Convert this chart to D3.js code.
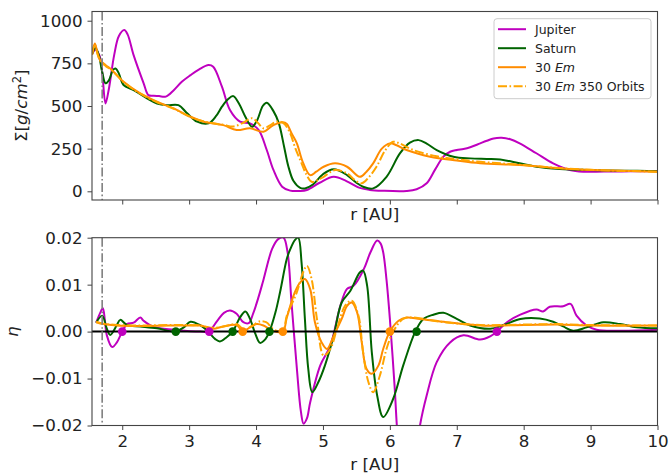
<!DOCTYPE html>
<html>
<head>
<meta charset="utf-8">
<script src="https://cdnjs.cloudflare.com/ajax/libs/d3/7.8.5/d3.min.js"></script>
<style>
  body { margin: 0; background: #fff; }
  svg { font-family: "DejaVu Sans", sans-serif; }
</style>
</head>
<body>
<div id="chart"></div>
<script>
"use strict";

// surface density, [r (AU), sigma (g/cm^2)]
var jupiterSigma = [[1.55, 805], [1.60, 830], [1.66, 795], [1.70, 700], [1.75, 515], [1.80, 600], [1.88, 800], [1.95, 910], [2.03, 945], [2.08, 920], [2.17, 798], [2.32, 633], [2.39, 564], [2.47, 560], [2.55, 558], [2.65, 555], [2.77, 593], [2.89, 642], [3.02, 681], [3.15, 715], [3.29, 740], [3.36, 730], [3.49, 613], [3.61, 476], [3.76, 408], [3.91, 398], [4.04, 359], [4.16, 242], [4.26, 125], [4.39, 27], [4.51, 4], [4.65, 2], [4.76, 8], [4.95, 50], [5.16, 85], [5.35, 60], [5.55, 20], [5.70, 8], [5.90, 3], [6.25, 2], [6.40, 12], [6.55, 47], [6.68, 130], [6.80, 203], [6.90, 232], [7.00, 242], [7.10, 248], [7.20, 258], [7.35, 281], [7.45, 296], [7.55, 310], [7.67, 314], [7.80, 305], [7.94, 281], [8.19, 223], [8.44, 164], [8.69, 125], [8.89, 115], [9.20, 116], [9.60, 117], [10, 119]];
var saturnSigma = [[1.55, 805], [1.60, 840], [1.65, 798], [1.70, 700], [1.75, 633], [1.80, 650], [1.86, 710], [1.90, 720], [1.95, 690], [2.02, 623], [2.17, 593], [2.37, 545], [2.52, 515], [2.67, 505], [2.84, 505], [2.97, 457], [3.12, 408], [3.29, 398], [3.40, 440], [3.49, 496], [3.58, 540], [3.66, 558], [3.75, 510], [3.84, 437], [3.94, 378], [4.02, 420], [4.10, 500], [4.16, 519], [4.26, 470], [4.34, 400], [4.42, 260], [4.48, 150], [4.56, 60], [4.66, 20], [4.73, 17], [4.85, 40], [5.00, 100], [5.16, 129], [5.36, 95], [5.50, 50], [5.60, 27], [5.75, 17], [5.95, 85], [6.15, 222], [6.30, 285], [6.43, 300], [6.55, 280], [6.70, 242], [6.95, 203], [7.20, 193], [7.45, 190], [7.65, 187], [7.94, 164], [8.19, 144], [8.54, 131], [8.94, 125], [9.50, 121], [10, 118]];
var em30Sigma = [[1.55, 808], [1.59, 867], [1.63, 810], [1.67, 769], [1.75, 740], [1.82, 720], [2.02, 642], [2.27, 574], [2.52, 525], [2.77, 486], [3.02, 437], [3.22, 408], [3.51, 388], [3.71, 359], [3.91, 369], [4.11, 349], [4.26, 388], [4.40, 405], [4.46, 395], [4.53, 340], [4.61, 281], [4.70, 170], [4.81, 95], [4.90, 115], [5.01, 144], [5.18, 164], [5.36, 144], [5.55, 85], [5.65, 115], [5.75, 164], [5.88, 250], [6.00, 281], [6.10, 270], [6.25, 242], [6.60, 203], [7.00, 180], [7.35, 164], [7.94, 154], [8.69, 131], [9.30, 122], [10, 115]];
var em30OrbSigma = [[1.55, 800], [1.59, 860], [1.63, 805], [1.67, 765], [1.75, 735], [1.85, 708], [2.02, 640], [2.27, 572], [2.52, 522], [2.77, 484], [3.02, 435], [3.22, 410], [3.51, 390], [3.66, 380], [3.80, 400], [3.94, 428], [4.03, 400], [4.11, 369], [4.20, 385], [4.31, 408], [4.41, 400], [4.51, 340], [4.58, 260], [4.66, 183], [4.75, 100], [4.83, 56], [4.92, 65], [5.01, 85], [5.18, 125], [5.36, 105], [5.48, 65], [5.58, 47], [5.68, 80], [5.80, 144], [5.93, 240], [6.05, 290], [6.15, 280], [6.35, 242], [6.70, 205], [7.00, 188], [7.35, 173], [7.94, 156], [8.69, 132], [9.30, 122], [10, 115]];

// pressure gradient parameter eta, [r (AU), eta]
var jupiterEta = [[1.61, 0.0019], [1.67, 0.0040], [1.71, 0.0050], [1.74, 0.0025], [1.77, -0.0008], [1.85, -0.0033], [1.92, -0.0023], [2.00, 0], [2.07, 0.0016], [2.17, 0.0019], [2.27, 0.0030], [2.32, 0.0023], [2.47, 0.0010], [2.77, 0.0004], [3.02, 0.0001], [3.17, 0.0000], [3.29, 0.0000], [3.42, 0.0023], [3.52, 0.0040], [3.61, 0.0045], [3.71, 0.0038], [3.81, 0.0020], [3.89, 0.0018], [3.96, 0.0040], [4.04, 0.0075], [4.11, 0.0110], [4.24, 0.0176], [4.33, 0.0197], [4.41, 0.0200], [4.47, 0.0170], [4.53, 0.0062], [4.61, -0.0079], [4.67, -0.0170], [4.71, -0.0196], [4.76, -0.0185], [4.81, -0.0150], [4.96, -0.0072], [5.11, -0.0030], [5.26, 0.0055], [5.36, 0.0091], [5.46, 0.0098], [5.61, 0.0133], [5.71, 0.0169], [5.81, 0.0194], [5.86, 0.0188], [5.90, 0.0169], [5.95, 0.0110], [6.00, 0.0027], [6.07, -0.0115], [6.12, -0.0230], [6.20, -0.0320], [6.30, -0.0330], [6.40, -0.0255], [6.45, -0.0200], [6.55, -0.0136], [6.70, -0.0065], [6.90, -0.0023], [7.10, -0.0008], [7.35, -0.0017], [7.50, -0.0010], [7.60, 0], [7.75, 0.0020], [7.95, 0.0036], [8.19, 0.0047], [8.29, 0.0043], [8.39, 0.0053], [8.59, 0.0054], [8.70, 0.0059], [8.79, 0.0034], [8.94, 0.0013], [9.09, 0.0004], [9.44, 0.0002], [10, 0.0004]];
var saturnEta = [[1.61, 0.0019], [1.70, 0.0034], [1.77, 0.0006], [1.82, -0.0007], [1.92, 0.0014], [1.97, 0.0025], [2.07, 0.0014], [2.27, 0.0011], [2.52, 0.0007], [2.79, 0], [2.92, 0.0009], [3.02, 0.0021], [3.17, 0.0013], [3.27, 0.0002], [3.39, -0.0016], [3.46, -0.0021], [3.56, -0.0012], [3.65, 0], [3.76, 0.0030], [3.84, 0.0043], [3.91, 0.0027], [3.99, -0.0005], [4.06, -0.0024], [4.14, -0.0016], [4.20, 0], [4.29, 0.0041], [4.36, 0.0085], [4.46, 0.0155], [4.51, 0.0175], [4.58, 0.0195], [4.63, 0.0200], [4.68, 0.0147], [4.73, 0.0027], [4.78, -0.0079], [4.84, -0.0129], [4.93, -0.0108], [5.03, -0.0072], [5.16, -0.0009], [5.28, 0.0062], [5.41, 0.0087], [5.55, 0.0126], [5.60, 0.0130], [5.66, 0.0098], [5.73, -0.0044], [5.81, -0.0136], [5.90, -0.0182], [6.05, -0.0143], [6.20, -0.0072], [6.38, 0], [6.50, 0.0027], [6.65, 0.0036], [6.80, 0.0040], [7.00, 0.0027], [7.20, 0.0013], [7.50, 0.0006], [7.70, 0.0014], [7.95, 0.0027], [8.24, 0.0028], [8.44, 0.0021], [8.59, 0.0011], [8.74, 0.0002], [8.94, 0.0009], [9.19, 0.0020], [9.44, 0.0016], [9.69, 0.0009], [10, 0.0007]];
var em30Eta = [[1.61, 0.0020], [1.72, 0.0016], [1.92, 0.0013], [2.30, 0.0012], [2.70, 0.0013], [3.00, 0.0013], [3.17, 0.0013], [3.36, 0.0006], [3.51, 0.0011], [3.71, 0.0014], [3.80, 0.0001], [3.91, 0.0009], [4.01, 0.0016], [4.11, 0.0013], [4.26, 0.0001], [4.40, 0.0000], [4.46, 0.0030], [4.58, 0.0084], [4.66, 0.0105], [4.73, 0.0112], [4.81, 0.0090], [4.88, 0.0020], [4.98, -0.0023], [5.06, -0.0037], [5.16, -0.0009], [5.28, 0.0027], [5.36, 0.0055], [5.43, 0.0062], [5.51, 0.0041], [5.58, -0.0023], [5.65, -0.0079], [5.73, -0.0090], [5.83, -0.0072], [5.90, -0.0037], [6.00, 0], [6.13, 0.0023], [6.25, 0.0030], [6.45, 0.0027], [6.85, 0.0020], [7.35, 0.0013], [8.00, 0.0014], [8.50, 0.0015], [9.00, 0.0013], [10, 0.0013]];
var em30OrbEta = [[1.61, 0.0021], [1.72, 0.0017], [1.92, 0.0014], [2.30, 0.0013], [2.70, 0.0014], [3.00, 0.0014], [3.20, 0.0012], [3.36, 0.0008], [3.55, 0.0012], [3.71, 0.0016], [3.82, 0.0004], [3.94, 0.0012], [4.06, 0.0022], [4.15, 0.0020], [4.28, 0.0003], [4.40, 0.0002], [4.46, 0.0034], [4.61, 0.0084], [4.70, 0.0125], [4.76, 0.0140], [4.83, 0.0112], [4.91, 0.0027], [5.01, -0.0051], [5.11, -0.0037], [5.21, 0.0006], [5.33, 0.0055], [5.43, 0.0066], [5.53, 0.0034], [5.60, -0.0044], [5.68, -0.0108], [5.75, -0.0129], [5.85, -0.0094], [5.95, -0.0037], [6.05, 0], [6.20, 0.0027], [6.35, 0.0030], [6.70, 0.0022], [7.35, 0.0014], [8.00, 0.0015], [8.50, 0.0016], [9.00, 0.0014], [10, 0.0013]];

// zero crossings of eta (pressure maxima / minima)
var zeroJupiter = [2.0, 3.3, 7.6];
var zeroSaturn = [2.8, 3.65, 4.2, 6.4];
var zeroEm30 = [3.8, 4.4, 6.0];

var innerEdge = 1.7;

var xTicks = [2, 3, 4, 5, 6, 7, 8, 9, 10];
var sigmaTicks = [0, 250, 500, 750, 1000];
var etaTicks = [-0.02, -0.01, 0, 0.01, 0.02];

var series = [
    { name: "Jupiter", sigma: jupiterSigma, eta: jupiterEta, color: "#bf00bf", dash: null },
    { name: "Saturn", sigma: saturnSigma, eta: saturnEta, color: "#006400", dash: null },
    { name: "30 Em", sigma: em30Sigma, eta: em30Eta, color: "#ff8c00", dash: null },
    { name: "30 Em 350 Orbits", sigma: em30OrbSigma, eta: em30OrbEta, color: "#ffa500", dash: "9,2.5,1.6,2.5" }
];
var dots = [
    { r: zeroJupiter, color: "#bf00bf" },
    { r: zeroSaturn, color: "#006400" },
    { r: zeroEm30, color: "#ff8c00" }
];

var W = 670, H = 473;
var left = 92, right = 657.5;
var top1 = 11.5, bot1 = 200;
var top2 = 237.7, bot2 = 425.5;
var spine = "#444";
var fs = 16.7;

var svg = d3.select("#chart").append("svg")
    .attr("width", W)
    .attr("height", H);

var x = d3.scaleLinear().domain([1.548, 10]).range([left, right]);
var ySig = d3.scaleLinear().domain([-51, 1054]).range([bot1, top1]);
var yEta = d3.scaleLinear().domain([-0.02, 0.02]).range([bot2, top2]);

function clip(id, y0, y1) {
    svg.append("clipPath").attr("id", id)
        .append("rect")
        .attr("x", left).attr("y", y0)
        .attr("width", right - left).attr("height", y1 - y0);
}
clip("clipTop", top1, bot1);
clip("clipBot", top2, bot2);

function drawAxes(y, y0, y1, yTicksArr, yFmt, showX) {
    var gx = svg.append("g")
        .attr("transform", "translate(0," + y1 + ")")
        .call(d3.axisBottom(x).tickValues(xTicks).tickSize(4.5).tickPadding(5)
            .tickFormat(showX ? d3.format("d") : ""));
    var gy = svg.append("g")
        .attr("transform", "translate(" + left + ",0)")
        .call(d3.axisLeft(y).tickValues(yTicksArr).tickSize(4.5).tickPadding(5).tickFormat(yFmt));
    [gx, gy].forEach(function (g) {
        g.select(".domain").remove();
        g.selectAll("line").attr("stroke", spine).attr("stroke-width", 1);
        g.selectAll("text").attr("fill", "#222").style("font-size", fs + "px")
            .style("font-family", "DejaVu Sans");
    });
    svg.append("rect")
        .attr("x", left).attr("y", y0)
        .attr("width", right - left).attr("height", y1 - y0)
        .attr("fill", "none").attr("stroke", spine).attr("stroke-width", 1.1);
}

function drawCurves(key, y, clipId) {
    var g = svg.append("g").attr("clip-path", "url(#" + clipId + ")");
    var line = d3.line()
        .x(function (d) { return x(d[0]); })
        .y(function (d) { return y(d[1]); })
        .curve(d3.curveCatmullRom.alpha(0.5));
    series.forEach(function (s) {
        g.append("path")
            .attr("d", line(s[key]))
            .attr("fill", "none")
            .attr("stroke", s.color)
            .attr("stroke-width", 2)
            .attr("stroke-dasharray", s.dash);
    });
    return g;
}

function vline(y0, y1) {
    svg.append("line")
        .attr("x1", x(innerEdge)).attr("x2", x(innerEdge))
        .attr("y1", y0).attr("y2", y1)
        .attr("stroke", "#808080").attr("stroke-width", 1.6)
        .attr("stroke-dasharray", "9,2.5,1.6,2.5");
}

// top panel
drawCurves("sigma", ySig, "clipTop");
vline(top1, bot1);
drawAxes(ySig, top1, bot1, sigmaTicks, d3.format("d"), false);

// bottom panel
var gb = drawCurves("eta", yEta, "clipBot");
gb.append("line")
    .attr("x1", left).attr("x2", right)
    .attr("y1", yEta(0)).attr("y2", yEta(0))
    .attr("stroke", "#000").attr("stroke-width", 2);
dots.forEach(function (d) {
    gb.selectAll(null).data(d.r).enter().append("circle")
        .attr("cx", function (r) { return x(r); })
        .attr("cy", yEta(0))
        .attr("r", 4.3)
        .attr("fill", d.color);
});
vline(top2, bot2);
drawAxes(yEta, top2, bot2, etaTicks, function (v) {
    return (v < 0 ? "\u2212" : "") + d3.format(".2f")(Math.abs(v));
}, true);

// axis labels
svg.append("text")
    .attr("x", (left + right) / 2).attr("y", 219.5)
    .attr("text-anchor", "middle").style("font-size", fs + "px").attr("fill", "#222")
    .text("r [AU]");
svg.append("text")
    .attr("x", (left + right) / 2).attr("y", 469.5)
    .attr("text-anchor", "middle").style("font-size", fs + "px").attr("fill", "#222")
    .text("r [AU]");

var sl = svg.append("text")
    .attr("transform", "translate(27," + ((top1 + bot1) / 2) + ") rotate(-90)")
    .attr("text-anchor", "middle").style("font-size", fs + "px").attr("fill", "#222");
sl.append("tspan").text("\u03A3[");
sl.append("tspan").style("font-style", "italic").text("g");
sl.append("tspan").text("/");
sl.append("tspan").style("font-style", "italic").text("cm");
sl.append("tspan").attr("dy", -6).style("font-size", "11.5px").text("2");
sl.append("tspan").attr("dy", 6).text("]");

svg.append("text")
    .attr("transform", "translate(18," + ((top2 + bot2) / 2) + ") rotate(-90)")
    .attr("text-anchor", "middle").style("font-size", fs + "px").style("font-style", "italic")
    .attr("fill", "#222")
    .text("\u03B7");

// legend
var lg = svg.append("g").attr("transform", "translate(494,18.7)");
lg.append("rect")
    .attr("width", 157).attr("height", 80).attr("rx", 3)
    .attr("fill", "#fff").attr("fill-opacity", 0.8)
    .attr("stroke", "#ccc").attr("stroke-width", 1);
series.forEach(function (s, i) {
    var yy = 10.5 + i * 19;
    lg.append("line")
        .attr("x1", 4).attr("x2", 32).attr("y1", yy).attr("y2", yy)
        .attr("stroke", s.color).attr("stroke-width", 2)
        .attr("stroke-dasharray", s.dash);
    var t = lg.append("text")
        .attr("x", 41).attr("y", yy + 4.5)
        .style("font-size", "12.5px").attr("fill", "#222");
    if (s.name.indexOf("Em") >= 0) {
        t.append("tspan").text("30 ");
        t.append("tspan").style("font-style", "italic").text("Em");
        t.append("tspan").text(s.name.slice(5));
    } else {
        t.text(s.name);
    }
});
</script>
</body>
</html>
